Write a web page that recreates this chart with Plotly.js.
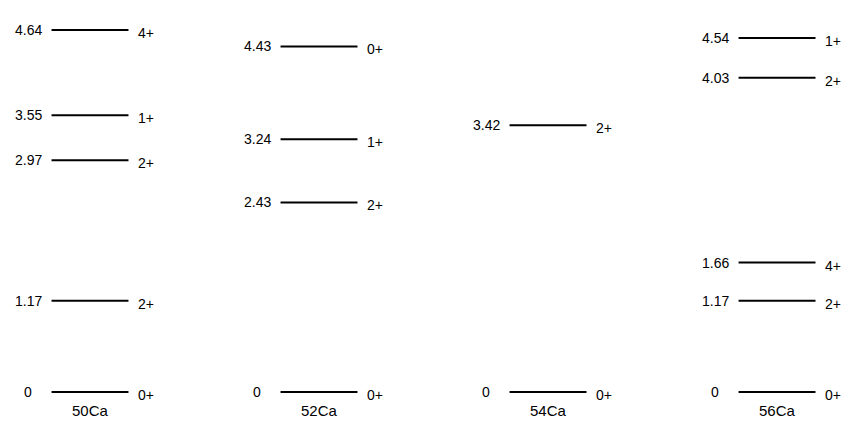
<!DOCTYPE html>
<html>
<head>
<meta charset="utf-8">
<script src="https://cdn.plot.ly/plotly-3.0.1.min.js"></script>
<style>html,body{margin:0;padding:0;background:#fff;}#chart{width:851px;height:423px;}</style>
</head>
<body>
<div id="chart"></div>
<script>
// Data: nuclei and their excitation energies (MeV) with spin-parity labels
var nuclei = ['50Ca', '52Ca', '54Ca', '56Ca'];
var energies50 = [0, 1.17, 2.97, 3.55, 4.64];
var spins50 = ['0+', '2+', '2+', '1+', '4+'];
var energies52 = [0, 2.43, 3.24, 4.43];
var spins52 = ['0+', '2+', '1+', '0+'];
var energies54 = [0, 3.42];
var spins54 = ['0+', '2+'];
var energies56 = [0, 1.17, 1.66, 4.03, 4.54];
var spins56 = ['0+', '2+', '4+', '2+', '1+'];

var allEnergies = [energies50, energies52, energies54, energies56];
var allSpins = [spins50, spins52, spins54, spins56];

var halfW = 0.168, eOff = 0.27, sOff = 0.245;
var font = {family: 'Liberation Sans, Arial, sans-serif', size: 14, color: '#000'};

var traces = [];
var annotations = [];
nuclei.forEach(function (name, i) {
  var xs = [], ys = [];
  allEnergies[i].forEach(function (E, k) {
    xs.push(i - halfW, i + halfW, null);
    ys.push(E, E, null);
    annotations.push({x: i - eOff, y: E, xref: 'x', yref: 'y', text: E === 0 ? '0' : E.toFixed(2),
      showarrow: false, xanchor: 'center', yanchor: 'middle', font: font});
    annotations.push({x: i + sOff, y: E, xref: 'x', yref: 'y', text: allSpins[i][k],
      showarrow: false, xanchor: 'center', yanchor: 'middle', yshift: -3, font: font});
  });
  traces.push({x: xs, y: ys, type: 'scatter', mode: 'lines', line: {color: '#000', width: 2},
    hoverinfo: 'skip', showlegend: false});
  annotations.push({x: i, y: 0, xref: 'x', yref: 'y', text: name, showarrow: false,
    xanchor: 'center', yanchor: 'middle', yshift: -18,
    font: {family: 'Liberation Sans, Arial, sans-serif', size: 15, color: '#000'}});
});

var layout = {
  width: 851, height: 423,
  margin: {l: 0, r: 0, t: 0, b: 0},
  paper_bgcolor: '#fff', plot_bgcolor: '#fff',
  xaxis: {range: [-0.393, 3.323], visible: false, fixedrange: true},
  yaxis: {range: [-0.397, 5.026], visible: false, fixedrange: true},
  annotations: annotations,
  showlegend: false
};
Plotly.newPlot('chart', traces, layout, {displayModeBar: false, staticPlot: true});
</script>
</body>
</html>
